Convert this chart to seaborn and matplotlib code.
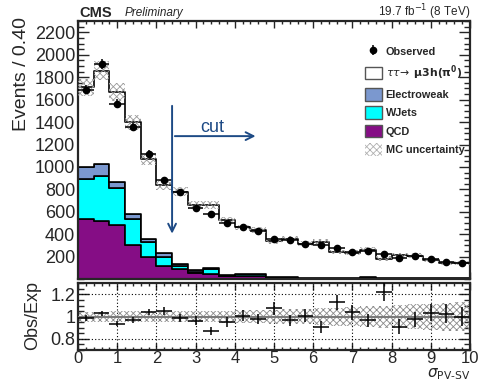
import numpy as np
import pandas as pd
import matplotlib
matplotlib.use("Agg")
import matplotlib.pyplot as plt
import seaborn as sns
from matplotlib.patches import Patch
from matplotlib.ticker import MultipleLocator, FixedLocator

# ---------------- data ----------------
bin_width = 0.4
x_range = (0, 10)
observed = [1690, 1915, 1566, 1358, 1115, 884, 772, 636, 576, 500, 464, 431, 360,
            348, 316, 300, 274, 244, 253, 224, 191, 203, 176, 149, 140]
signal = [713, 836, 803, 820, 710, 607, 645, 584, 565, 491, 411, 393, 319,
          346, 301, 319, 234, 227, 246, 176, 204, 202, 165, 140, 135]
electroweak = [104, 101, 56, 42, 27, 36, 21, 16, 4, 3, 3, 3, 2,
               2, 2, 2, 2, 1, 1, 1, 1, 1, 1, 1, 1]
wjets = [358, 403, 327, 231, 136, 83, 24, 8, 45, 5, 20, 20, 2,
         2, 1, 1, 1, 1, 1, 1, 1, 1, 1, 1, 1]
qcd = [535, 520, 484, 307, 197, 114, 90, 52, 46, 26, 26, 24, 12,
       10, 9, 8, 6, 6, 14, 5, 4, 4, 3, 3, 3]
mc_unc_rel = [0.045, 0.046, 0.047, 0.048, 0.05, 0.05, 0.05, 0.052, 0.052, 0.055, 0.056,
              0.058, 0.062, 0.066, 0.07, 0.075, 0.08, 0.088, 0.095, 0.1, 0.105, 0.11,
              0.118, 0.125, 0.13]

labels = {"sig": r"$\tau\tau\!\rightarrow$ $\mathbf{\mu 3h(\pi^{0})}$",
          "ew": "Electroweak", "wj": "WJets", "qcd": "QCD"}
colors = {"sig": "white", "ew": "#7b98cf", "wj": "#00ffff", "qcd": "#850d85"}

# ---------------- style ----------------
sns.set_style("ticks")
plt.rcParams["font.family"] = ["Liberation Sans", "DejaVu Sans"]
plt.rcParams["mathtext.fontset"] = "dejavusans"
plt.rcParams["hatch.linewidth"] = 0.6

nb = len(observed)
bin_edges = x_range[0] + bin_width * np.arange(nb + 1)
centers = bin_edges[:-1] + bin_width / 2
obs = np.array(observed, float)
comps = {"sig": signal, "ew": electroweak, "wj": wjets, "qcd": qcd}
total = sum(np.array(v, float) for v in comps.values())
unc = np.array(mc_unc_rel)

rows = []
for k, vals in comps.items():
    for c, v in zip(centers, vals):
        rows.append({"x": float(c), "w": float(v), "comp": k})
df = pd.DataFrame(rows)

fig = plt.figure(figsize=(4.8, 3.83), dpi=100)
ax = fig.add_axes([0.1625, 0.2715, 0.8167, 0.673])
rax = fig.add_axes([0.1625, 0.0862, 0.8167, 0.1741])

sns.histplot(data=df, x="x", weights="w", hue="comp",
             hue_order=["sig", "ew", "wj", "qcd"], multiple="stack",
             binwidth=bin_width, binrange=x_range, element="step", fill=True, alpha=1,
             palette=colors, edgecolor="black", linewidth=1.2,
             legend=False, ax=ax)

# MC uncertainty
lo = total * (1 - unc)
hi = total * (1 + unc)
ax.fill_between(bin_edges, np.append(lo, lo[-1]), np.append(hi, hi[-1]), step="post",
                facecolor="none", edgecolor="#9a9a9a", hatch="xxxxx", linewidth=0, zorder=4)

# Observed
ax.errorbar(centers, obs, xerr=bin_width / 2, yerr=np.sqrt(obs), fmt="o", color="black",
            ms=4.5, elinewidth=1.1, capsize=0, zorder=6)

ax.set_xlim(0, 10)
ax.set_ylim(0, 2300)
ax.set_xlabel("")
ax.set_ylabel("")
ax.xaxis.set_major_locator(MultipleLocator(1))
ax.xaxis.set_minor_locator(MultipleLocator(0.2))
ax.yaxis.set_major_locator(FixedLocator(np.arange(200, 2201, 200)))
ax.yaxis.set_minor_locator(MultipleLocator(50))
ax.tick_params(axis="x", labelbottom=False)

# cut arrows
acol = "#1d4a85"
ax.annotate("", xy=(2.4, 380), xytext=(2.4, 1570),
            arrowprops=dict(arrowstyle="->", color=acol, lw=1.4, mutation_scale=14), zorder=7)
ax.annotate("", xy=(4.6, 1275), xytext=(2.4, 1275),
            arrowprops=dict(arrowstyle="->", color=acol, lw=1.4, mutation_scale=14), zorder=7)
ax.text(3.42, 1350, "cut", color=acol, fontsize=13, ha="center", va="center")

# legend
obs_h = ax.errorbar([np.nan], [np.nan], yerr=[1], fmt="o", color="black", ms=4.5, elinewidth=1.1)
handles = [obs_h,
           Patch(facecolor="white", edgecolor="#555555", lw=1.0),
           Patch(facecolor=colors["ew"], edgecolor="#555555", lw=1.0),
           Patch(facecolor=colors["wj"], edgecolor="#555555", lw=1.0),
           Patch(facecolor=colors["qcd"], edgecolor="#555555", lw=1.0),
           Patch(facecolor="white", edgecolor="#b0b0b0", hatch="xxxxx", lw=0)]
names = ["Observed", labels["sig"], labels["ew"], labels["wj"], labels["qcd"], "MC uncertainty"]
leg = ax.legend(handles, names, loc="upper left", bbox_to_anchor=(365 / 480, 1 - 45 / 383),
                bbox_transform=fig.transFigure, frameon=False, fontsize=7.8,
                handlelength=1.55, handleheight=1.4, labelspacing=0.55,
                handletextpad=0.35, borderpad=0, borderaxespad=0)
for t in leg.get_texts():
    t.set_fontweight("bold")

# ratio panel
ratio = obs / total
rerr = np.sqrt(obs) / total
rax.fill_between(bin_edges, np.append(1 - unc, 1 - unc[-1]), np.append(1 + unc, 1 + unc[-1]),
                 step="post", facecolor="none", edgecolor="#8a8a8a", hatch="xxxxx",
                 linewidth=0, zorder=2)
rax.axhline(1, color="#7a7a7a", lw=1.5, zorder=3)
for yv in (0.8, 1.2):
    rax.axhline(yv, color="black", lw=0.8, ls=(0, (1, 2)), zorder=1)
for xv in range(1, 10):
    rax.axvline(xv, color="black", lw=0.8, ls=(0, (1, 2)), zorder=1)
rax.errorbar(centers, ratio, xerr=bin_width / 2, yerr=rerr, fmt="none", ecolor="black",
             elinewidth=1.1, capsize=0, zorder=5)
rax.set_xlim(0, 10)
rax.set_ylim(0.7, 1.3)
rax.xaxis.set_major_locator(MultipleLocator(1))
rax.xaxis.set_minor_locator(MultipleLocator(0.2))
rax.yaxis.set_major_locator(FixedLocator([0.8, 1.0, 1.2]))
rax.yaxis.set_minor_locator(MultipleLocator(0.05))
rax.set_yticklabels(["0.8", "1", "1.2"])

for a in (ax, rax):
    for s in a.spines.values():
        s.set_linewidth(1.6)
        s.set_visible(True)
    a.tick_params(which="both", direction="in", top=True, right=True, width=1.0,
                  labelsize=13, pad=2)
    a.tick_params(axis="y", which="major", length=8)
    a.tick_params(axis="y", which="minor", length=4.5)
    a.tick_params(axis="x", which="major", length=5)
    a.tick_params(axis="x", which="minor", length=2.5)
rax.tick_params(axis="x", labelsize=12, pad=0.5)

# texts
fig.text(22 / 480, 1 - 17 / 383, "Events / 0.40", rotation=90, ha="center", va="top", fontsize=14)
fig.text(33 / 480, 1 - 316 / 383, "Obs/Exp", rotation=90, ha="center", va="center", fontsize=13)
fig.text(470 / 480, 1 - 377.5 / 383, r"$\sigma_{\mathrm{PV\text{-}SV}}$", ha="right",
         va="baseline", fontsize=11)
fig.text(79 / 480, 1 - 13 / 383, "CMS", fontweight="bold", fontsize=10.5, ha="left", va="center")
fig.text(125 / 480, 1 - 13 / 383, "Preliminary", fontstyle="italic", fontsize=8.5, ha="left", va="center")
fig.text(470 / 480, 1 - 12 / 383, r"19.7 fb$^{-1}$ (8 TeV)", fontsize=8.5, ha="right", va="center")

fig.savefig("out.png", dpi=100)
